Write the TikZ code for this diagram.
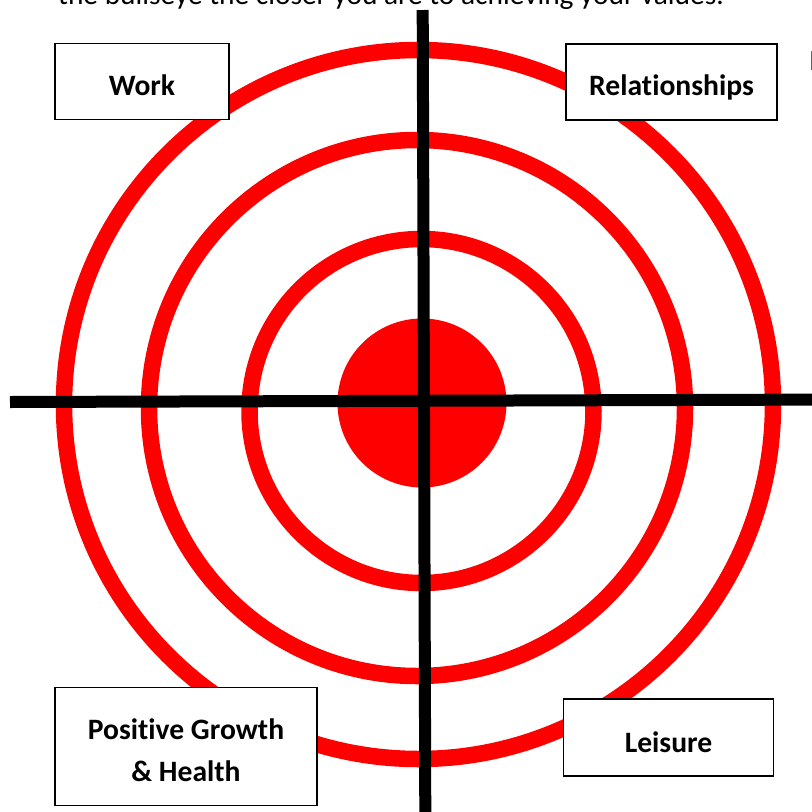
\documentclass[tikz,border=0pt]{standalone}
\usepackage{fontspec}
\setmainfont{Carlito}[Ligatures=NoCommon]
\begin{document}
\begin{tikzpicture}[x=1pt,y=-1pt,
  ring/.style={draw=red, line width=16.5pt},
  bull/.style={fill=red},
  crossline/.style={draw=black, line width=12pt},
  labelbox/.style={draw=black, line width=1.5pt, fill=white, inner sep=0pt},
  labeltext/.style={font=\fontsize{29.6}{36}\selectfont\bfseries, anchor=base, inner sep=0pt},
  bodytext/.style={font=\fontsize{29.4}{36}\selectfont, inner sep=0pt},
]
\useasboundingbox (0,0) rectangle (812,812);
\fill[white] (0,0) rectangle (812,812);
\clip (0,0) rectangle (812,812);
% cut-off text at top and right edge
\node[bodytext, anchor=base west] (intro) at (58,4.5) {the bullseye the closer you are to achieving your values.};
\node[bodytext, anchor=base west] (edge) at (809,70) {I};
% rings
\draw[ring] (418.5,404.5) circle[radius=354.5pt];
\draw[ring] (417,408) circle[radius=268pt];
\draw[ring] (421.5,411) circle[radius=172pt];
\fill[bull] (422,403) circle[radius=84.5pt];
% cross
\coordinate (hL) at (10,402);
\coordinate (hR) at (812,399.6);
\coordinate (vT) at (422.7,10);
\coordinate (vB) at (425.3,812);
\draw[crossline] (hL) -- (hR);
\draw[crossline] (vT) -- (vB);
% boxes
\node[labelbox, minimum width=174pt, minimum height=76pt] (workbox) at (142,81.5) {};
\node[labelbox, minimum width=211pt, minimum height=76pt] (relbox) at (671.5,82) {};
\node[labelbox, minimum width=262pt, minimum height=118pt] (growbox) at (186,746.5) {};
\node[labelbox, minimum width=210pt, minimum height=77pt] (leisbox) at (668.5,737.5) {};
% labels
\node[labeltext] (work) at (142,95) {Work};
\node[labeltext] (rel) at (671.5,95) {Relationships};
\node[labeltext] (grow1) at (186,739) {Positive Growth};
\node[labeltext] (grow2) at (186,781) {\& Health};
\node[labeltext] (leis) at (668.5,752) {Leisure};
\end{tikzpicture}
\end{document}
